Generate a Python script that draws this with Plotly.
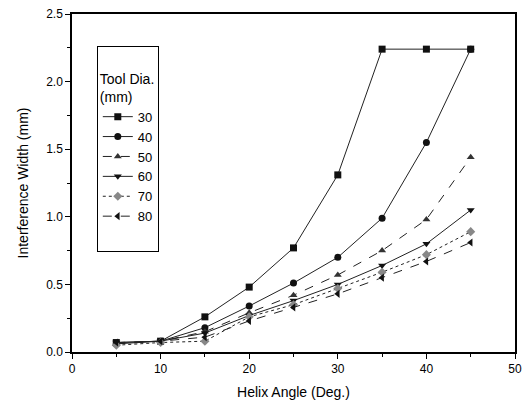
import plotly.graph_objects as go

helix = [5, 10, 15, 20, 25, 30, 35, 40, 45]
d30 = [0.07, 0.08, 0.26, 0.48, 0.77, 1.31, 2.24, 2.24, 2.24]
d40 = [0.06, 0.08, 0.18, 0.34, 0.51, 0.70, 0.99, 1.55, 2.24]
d50 = [0.06, 0.08, 0.15, 0.29, 0.42, 0.57, 0.75, 0.98, 1.44]
d60 = [0.07, 0.08, 0.14, 0.27, 0.38, 0.50, 0.64, 0.80, 1.05]
d70 = [0.05, 0.07, 0.08, 0.26, 0.35, 0.47, 0.59, 0.72, 0.89]
d80 = [0.07, 0.08, 0.11, 0.23, 0.33, 0.43, 0.55, 0.67, 0.81]
labels = ["30", "40", "50", "60", "70", "80"]

series = [d30, d40, d50, d60, d70, d80]
symbols = ["square", "circle", "triangle-up", "triangle-down", "diamond", "triangle-left"]
dashes = ["solid", "solid", "dash", "solid", "dot", "dash"]
colors = ["#111111", "#111111", "#333333", "#111111", "#888888", "#111111"]

FONT = "Liberation Sans, Arial"

fig = go.Figure()
for lab, ys, sym, ds, c in zip(labels, series, symbols, dashes, colors):
    fig.add_trace(go.Scatter(
        x=helix, y=ys, name=lab, mode="lines+markers",
        line=dict(color="#222222", width=1, dash=ds),
        marker=dict(symbol=sym, size=7, color=c),
    ))
# blank legend row (padding at the bottom of the legend box)
fig.add_trace(go.Scatter(x=[None], y=[None], name=" ", mode="markers",
                         marker=dict(color="rgba(0,0,0,0)", size=1), hoverinfo="skip"))

axis_common = dict(
    showline=True, linecolor="black", linewidth=1.5, mirror=True,
    ticks="outside", ticklen=5, tickcolor="black", showgrid=False, zeroline=False,
    tickfont=dict(family=FONT, size=12, color="black"),
)
fig.update_xaxes(range=[0, 50], dtick=10,
                 minor=dict(ticks="outside", dtick=5, ticklen=3, tickcolor="black"),
                 title=dict(text="Helix Angle (Deg.)", font=dict(family=FONT, size=14, color="black"), standoff=12),
                 **axis_common)
fig.update_yaxes(range=[0, 2.5], dtick=0.5, tickformat=".1f",
                 minor=dict(ticks="outside", dtick=0.25, ticklen=3, tickcolor="black"),
                 title=dict(text="Interference Width (mm)", font=dict(family=FONT, size=14, color="black"), standoff=14),
                 **axis_common)

fig.update_layout(
    width=529, height=411,
    margin=dict(l=72, r=7, t=13, b=59),
    paper_bgcolor="white", plot_bgcolor="white",
    font=dict(family=FONT, color="black"),
    legend=dict(
        title=dict(text=" <br>Tool Dia.<br>(mm)", font=dict(size=14)),
        x=0.056, y=0.905, xanchor="left", yanchor="top",
        bordercolor="black", borderwidth=1, bgcolor="white",
        font=dict(size=13), itemwidth=30, tracegroupgap=0,
    ),
)

fig.write_html("out.html")
